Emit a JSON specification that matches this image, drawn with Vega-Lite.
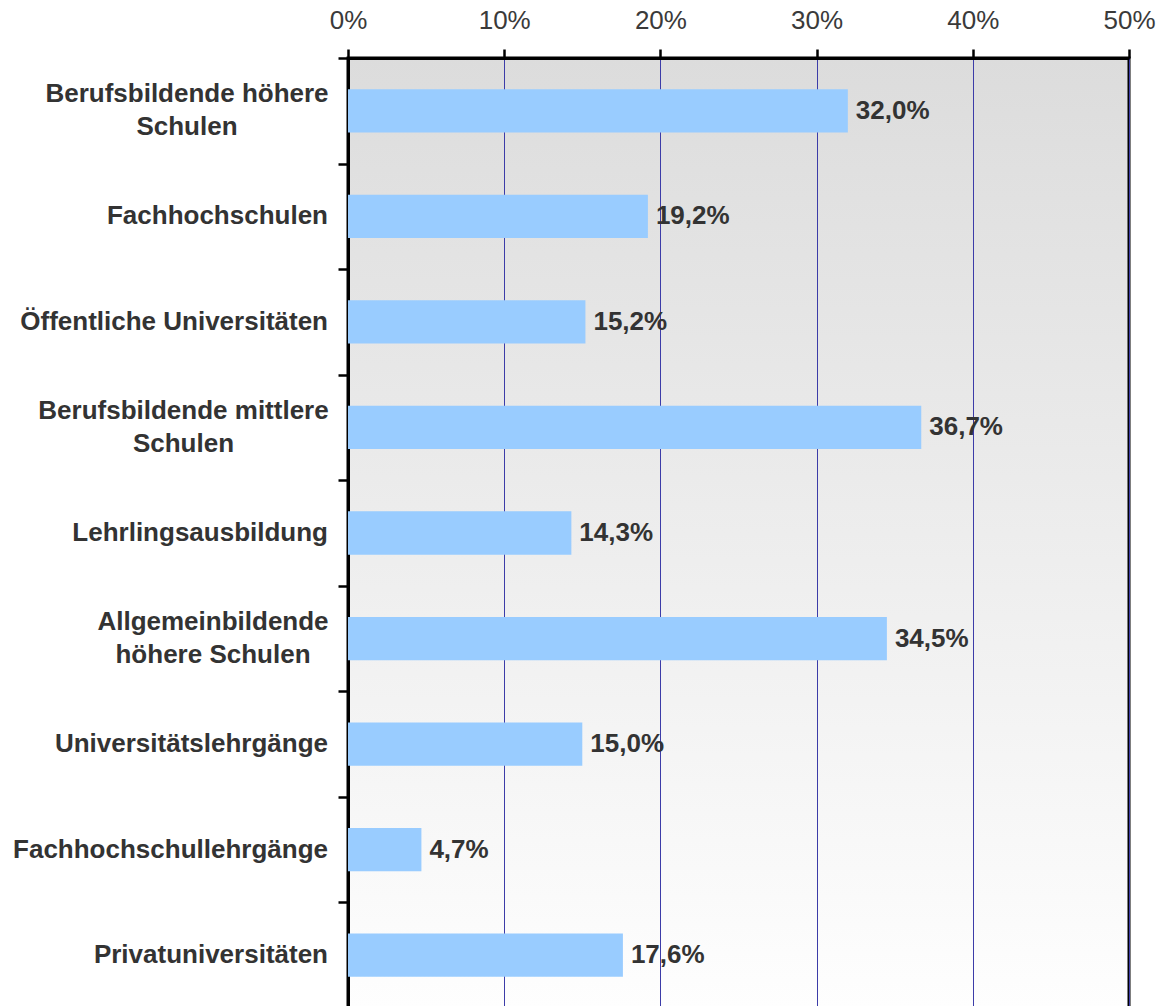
{
  "$schema": "https://vega.github.io/schema/vega-lite/v6.json",
  "width": 781,
  "height": 950,
  "autosize": {"type": "none"},
  "padding": {"left": 348, "top": 58, "right": 39, "bottom": 0},
  "background": "white",
  "config": {
    "font": "Liberation Sans",
    "view": {
      "fill": {"gradient": "linear", "x1": 0, "y1": 0, "x2": 0, "y2": 1,
        "stops": [{"offset": 0, "color": "#dcdcdc"}, {"offset": 1, "color": "#fefefe"}]},
      "stroke": "black",
      "strokeWidth": 3
    }
  },
  "data": {
    "values": [
      {"cat": "Berufsbildende höhere\nSchulen", "v": 32.0},
      {"cat": "Fachhochschulen", "v": 19.2},
      {"cat": "Öffentliche Universitäten", "v": 15.2},
      {"cat": "Berufsbildende mittlere\nSchulen", "v": 36.7},
      {"cat": "Lehrlingsausbildung", "v": 14.3},
      {"cat": "Allgemeinbildende\nhöhere Schulen", "v": 34.5},
      {"cat": "Universitätslehrgänge", "v": 15.0},
      {"cat": "Fachhochschullehrgänge", "v": 4.7},
      {"cat": "Privatuniversitäten", "v": 17.6}
    ]
  },
  "encoding": {
    "y": {
      "field": "cat", "type": "nominal", "sort": null,
      "scale": {"paddingInner": 0, "paddingOuter": 0},
      "axis": {
        "title": null,
        "tickBand": "extent",
        "domain": true, "domainColor": "black", "domainWidth": 3,
        "ticks": true, "tickColor": "black", "tickWidth": 2.5, "tickSize": 10,
        "labels": false
      }
    },
    "x": {
      "field": "v", "type": "quantitative",
      "scale": {"domain": [0, 50], "nice": false},
      "axis": {
        "orient": "top", "title": null,
        "values": [0, 10, 20, 30, 40, 50],
        "labelExpr": "datum.value + '%'",
        "grid": true, "gridColor": "#3c3ca8", "gridWidth": 1,
        "domain": true, "domainColor": "black", "domainWidth": 3,
        "tickColor": "black", "tickWidth": 2.5, "tickSize": 9,
        "labelPadding": 16, "labelFontSize": 26, "labelColor": "#3a3a3a",
        "labelFlush": false
      }
    }
  },
  "layer": [
    {"mark": {"type": "bar", "color": "#99ccff", "height": {"band": 0.41}}},
    {
      "transform": [{"calculate": "replace(format(datum.v, '.1f'), '.', ',') + '%'", "as": "lab"}],
      "mark": {"type": "text", "align": "left", "baseline": "middle", "dx": 8, "fontSize": 26, "fontWeight": "bold", "color": "#333333"},
      "encoding": {"text": {"field": "lab"}}
    },
    {
      "transform": [{"filter": "indexof(datum.cat, '\\n') < 0"}],
      "mark": {"type": "text", "align": "right", "baseline": "middle", "dx": -20, "fontSize": 26, "fontWeight": "bold", "color": "#333333"},
      "encoding": {"x": {"datum": 0}, "text": {"field": "cat"}}
    },
    {
      "transform": [{"filter": "datum.cat == 'Berufsbildende höhere\\nSchulen'"}],
      "mark": {"type": "text", "align": "center", "baseline": "middle", "dx": -161, "dy": -16.5, "lineBreak": "\n", "lineHeight": 33, "fontSize": 26, "fontWeight": "bold", "color": "#333333"},
      "encoding": {"x": {"datum": 0}, "text": {"field": "cat"}}
    },
    {
      "transform": [{"filter": "datum.cat == 'Berufsbildende mittlere\\nSchulen'"}],
      "mark": {"type": "text", "align": "center", "baseline": "middle", "dx": -164.5, "dy": -16.5, "lineBreak": "\n", "lineHeight": 33, "fontSize": 26, "fontWeight": "bold", "color": "#333333"},
      "encoding": {"x": {"datum": 0}, "text": {"field": "cat"}}
    },
    {
      "transform": [{"filter": "datum.cat == 'Allgemeinbildende\\nhöhere Schulen'"}],
      "mark": {"type": "text", "align": "center", "baseline": "middle", "dx": -135, "dy": -16.5, "lineBreak": "\n", "lineHeight": 33, "fontSize": 26, "fontWeight": "bold", "color": "#333333"},
      "encoding": {"x": {"datum": 0}, "text": {"field": "cat"}}
    }
  ]
}
